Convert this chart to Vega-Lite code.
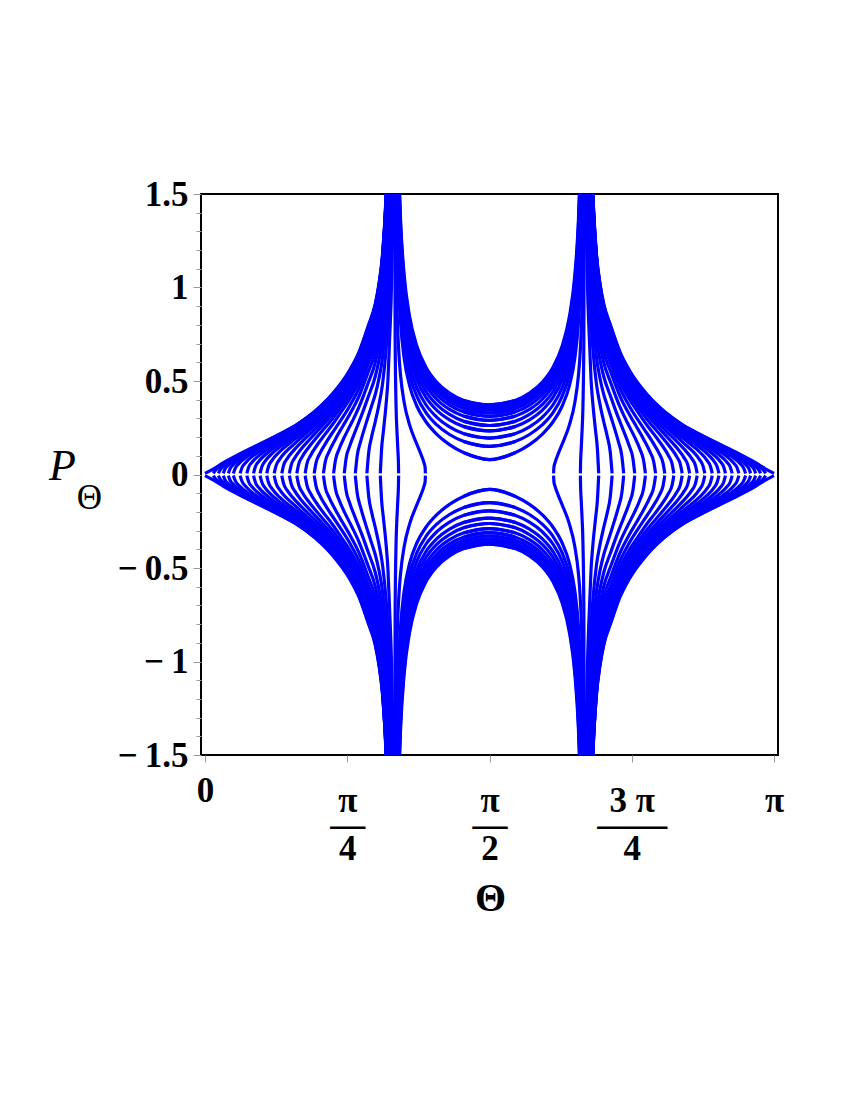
{
"$schema": "https://vega.github.io/schema/vega-lite/v6.json",
"width": 577, "height": 561,
"autosize": {"type": "none"},
"padding": {"left": 201, "top": 194, "right": 72, "bottom": 345},
"background": "white",
"config": {"view": {"stroke": "#000000", "strokeWidth": 2}, "font": "Liberation Serif"},
"datasets": {
"L": [
{"c":"L0","t":0,"u":3.1416,"p":0.006,"n":-0.006},{"c":"L0","t":0.05,"u":3.0916,"p":0.032,"n":-0.032},{"c":"L0","t":0.1,"u":3.0416,"p":0.062,"n":-0.062},{"c":"L0","t":0.2,"u":2.9416,"p":0.114,"n":-0.114},{"c":"L0","t":0.3,"u":2.8416,"p":0.162,"n":-0.162},{"c":"L0","t":0.4,"u":2.7416,"p":0.21,"n":-0.21},{"c":"L0","t":0.5,"u":2.6416,"p":0.263,"n":-0.263},{"c":"L0","t":0.6,"u":2.5416,"p":0.333,"n":-0.333},{"c":"L0","t":0.7,"u":2.4416,"p":0.427,"n":-0.427},{"c":"L0","t":0.8,"u":2.3416,"p":0.56,"n":-0.56},{"c":"L0","t":0.85,"u":2.2916,"p":0.655,"n":-0.655},{"c":"L0","t":0.9,"u":2.2416,"p":0.792,"n":-0.792},{"c":"L0","t":0.94,"u":2.2016,"p":0.912,"n":-0.912},{"c":"L0","t":0.96,"u":2.1816,"p":1.018,"n":-1.018},{"c":"L0","t":0.98,"u":2.1616,"p":1.176,"n":-1.176},{"c":"L0","t":1.0,"u":2.1416,"p":1.5,"n":-1.5},{"c":"L0","t":1.01,"u":2.1316,"p":1.768,"n":-1.768},
{"c":"L1","t":0.046,"u":3.0956,"p":0.006,"n":-0.006},{"c":"L1","t":0.056,"u":3.0856,"p":0.02,"n":-0.02},{"c":"L1","t":0.076,"u":3.0656,"p":0.038,"n":-0.038},{"c":"L1","t":0.1,"u":3.0416,"p":0.055,"n":-0.055},{"c":"L1","t":0.2,"u":2.9416,"p":0.111,"n":-0.111},{"c":"L1","t":0.3,"u":2.8416,"p":0.16,"n":-0.16},{"c":"L1","t":0.4,"u":2.7416,"p":0.209,"n":-0.209},{"c":"L1","t":0.5,"u":2.6416,"p":0.261,"n":-0.261},
{"c":"L2","t":0.074,"u":3.0676,"p":0.006,"n":-0.006},{"c":"L2","t":0.084,"u":3.0576,"p":0.025,"n":-0.025},{"c":"L2","t":0.104,"u":3.0376,"p":0.045,"n":-0.045},{"c":"L2","t":0.15,"u":2.9916,"p":0.077,"n":-0.077},{"c":"L2","t":0.2,"u":2.9416,"p":0.106,"n":-0.106},{"c":"L2","t":0.3,"u":2.8416,"p":0.157,"n":-0.157},{"c":"L2","t":0.4,"u":2.7416,"p":0.206,"n":-0.206},{"c":"L2","t":0.5,"u":2.6416,"p":0.26,"n":-0.26},{"c":"L2","t":0.6,"u":2.5416,"p":0.331,"n":-0.331},
{"c":"L3","t":0.101,"u":3.0406,"p":0.006,"n":-0.006},{"c":"L3","t":0.111,"u":3.0306,"p":0.029,"n":-0.029},{"c":"L3","t":0.131,"u":3.0106,"p":0.051,"n":-0.051},{"c":"L3","t":0.16,"u":2.9816,"p":0.073,"n":-0.073},{"c":"L3","t":0.2,"u":2.9416,"p":0.098,"n":-0.098},{"c":"L3","t":0.3,"u":2.8416,"p":0.153,"n":-0.153},{"c":"L3","t":0.4,"u":2.7416,"p":0.203,"n":-0.203},{"c":"L3","t":0.5,"u":2.6416,"p":0.257,"n":-0.257},{"c":"L3","t":0.6,"u":2.5416,"p":0.328,"n":-0.328},{"c":"L3","t":0.7,"u":2.4416,"p":0.423,"n":-0.423},
{"c":"L4","t":0.129,"u":3.0126,"p":0.006,"n":-0.006},{"c":"L4","t":0.139,"u":3.0026,"p":0.032,"n":-0.032},{"c":"L4","t":0.159,"u":2.9826,"p":0.055,"n":-0.055},{"c":"L4","t":0.2,"u":2.9416,"p":0.087,"n":-0.087},{"c":"L4","t":0.25,"u":2.8916,"p":0.119,"n":-0.119},{"c":"L4","t":0.3,"u":2.8416,"p":0.146,"n":-0.146},{"c":"L4","t":0.4,"u":2.7416,"p":0.199,"n":-0.199},{"c":"L4","t":0.5,"u":2.6416,"p":0.254,"n":-0.254},{"c":"L4","t":0.6,"u":2.5416,"p":0.325,"n":-0.325},{"c":"L4","t":0.7,"u":2.4416,"p":0.42,"n":-0.42},{"c":"L4","t":0.8,"u":2.3416,"p":0.553,"n":-0.553},{"c":"L4","t":0.85,"u":2.2916,"p":0.647,"n":-0.647},{"c":"L4","t":0.9,"u":2.2416,"p":0.784,"n":-0.784},{"c":"L4","t":0.94,"u":2.2016,"p":0.903,"n":-0.903},{"c":"L4","t":0.96,"u":2.1816,"p":1.008,"n":-1.008},{"c":"L4","t":0.98,"u":2.1616,"p":1.166,"n":-1.166},{"c":"L4","t":1.0,"u":2.1416,"p":1.488,"n":-1.488},{"c":"L4","t":1.01,"u":2.1316,"p":1.753,"n":-1.753},
{"c":"L5","t":0.157,"u":2.9846,"p":0.006,"n":-0.006},{"c":"L5","t":0.167,"u":2.9746,"p":0.033,"n":-0.033},{"c":"L5","t":0.187,"u":2.9546,"p":0.058,"n":-0.058},{"c":"L5","t":0.22,"u":2.9216,"p":0.087,"n":-0.087},{"c":"L5","t":0.26,"u":2.8816,"p":0.114,"n":-0.114},{"c":"L5","t":0.3,"u":2.8416,"p":0.138,"n":-0.138},{"c":"L5","t":0.4,"u":2.7416,"p":0.193,"n":-0.193},{"c":"L5","t":0.5,"u":2.6416,"p":0.249,"n":-0.249},{"c":"L5","t":0.6,"u":2.5416,"p":0.321,"n":-0.321},{"c":"L5","t":0.7,"u":2.4416,"p":0.416,"n":-0.416},{"c":"L5","t":0.8,"u":2.3416,"p":0.549,"n":-0.549},{"c":"L5","t":0.85,"u":2.2916,"p":0.643,"n":-0.643},{"c":"L5","t":0.9,"u":2.2416,"p":0.78,"n":-0.78},{"c":"L5","t":0.94,"u":2.2016,"p":0.899,"n":-0.899},{"c":"L5","t":0.96,"u":2.1816,"p":1.004,"n":-1.004},{"c":"L5","t":0.98,"u":2.1616,"p":1.161,"n":-1.161},{"c":"L5","t":1.0,"u":2.1416,"p":1.481,"n":-1.481},{"c":"L5","t":1.01,"u":2.1316,"p":1.746,"n":-1.746},
{"c":"L6","t":0.194,"u":2.9476,"p":0.006,"n":-0.006},{"c":"L6","t":0.204,"u":2.9376,"p":0.036,"n":-0.036},{"c":"L6","t":0.224,"u":2.9176,"p":0.063,"n":-0.063},{"c":"L6","t":0.26,"u":2.8816,"p":0.096,"n":-0.096},{"c":"L6","t":0.3,"u":2.8416,"p":0.124,"n":-0.124},{"c":"L6","t":0.35,"u":2.7916,"p":0.155,"n":-0.155},{"c":"L6","t":0.4,"u":2.7416,"p":0.184,"n":-0.184},{"c":"L6","t":0.5,"u":2.6416,"p":0.242,"n":-0.242},{"c":"L6","t":0.6,"u":2.5416,"p":0.315,"n":-0.315},{"c":"L6","t":0.7,"u":2.4416,"p":0.41,"n":-0.41},{"c":"L6","t":0.8,"u":2.3416,"p":0.543,"n":-0.543},{"c":"L6","t":0.85,"u":2.2916,"p":0.637,"n":-0.637},{"c":"L6","t":0.9,"u":2.2416,"p":0.773,"n":-0.773},{"c":"L6","t":0.94,"u":2.2016,"p":0.892,"n":-0.892},{"c":"L6","t":0.96,"u":2.1816,"p":0.997,"n":-0.997},{"c":"L6","t":0.98,"u":2.1616,"p":1.153,"n":-1.153},{"c":"L6","t":1.0,"u":2.1416,"p":1.472,"n":-1.472},{"c":"L6","t":1.01,"u":2.1316,"p":1.735,"n":-1.735},
{"c":"L7","t":0.231,"u":2.9106,"p":0.006,"n":-0.006},{"c":"L7","t":0.241,"u":2.9006,"p":0.039,"n":-0.039},{"c":"L7","t":0.261,"u":2.8806,"p":0.067,"n":-0.067},{"c":"L7","t":0.3,"u":2.8416,"p":0.103,"n":-0.103},{"c":"L7","t":0.35,"u":2.7916,"p":0.14,"n":-0.14},{"c":"L7","t":0.4,"u":2.7416,"p":0.171,"n":-0.171},{"c":"L7","t":0.5,"u":2.6416,"p":0.233,"n":-0.233},{"c":"L7","t":0.6,"u":2.5416,"p":0.307,"n":-0.307},{"c":"L7","t":0.7,"u":2.4416,"p":0.403,"n":-0.403},{"c":"L7","t":0.8,"u":2.3416,"p":0.536,"n":-0.536},{"c":"L7","t":0.85,"u":2.2916,"p":0.63,"n":-0.63},{"c":"L7","t":0.9,"u":2.2416,"p":0.766,"n":-0.766},{"c":"L7","t":0.94,"u":2.2016,"p":0.884,"n":-0.884},{"c":"L7","t":0.96,"u":2.1816,"p":0.988,"n":-0.988},{"c":"L7","t":0.98,"u":2.1616,"p":1.143,"n":-1.143},{"c":"L7","t":1.0,"u":2.1416,"p":1.459,"n":-1.459},{"c":"L7","t":1.01,"u":2.1316,"p":1.721,"n":-1.721},
{"c":"L8","t":0.268,"u":2.8736,"p":0.006,"n":-0.006},{"c":"L8","t":0.278,"u":2.8636,"p":0.041,"n":-0.041},{"c":"L8","t":0.298,"u":2.8436,"p":0.071,"n":-0.071},{"c":"L8","t":0.33,"u":2.8116,"p":0.103,"n":-0.103},{"c":"L8","t":0.37,"u":2.7716,"p":0.135,"n":-0.135},{"c":"L8","t":0.42,"u":2.7216,"p":0.17,"n":-0.17},{"c":"L8","t":0.5,"u":2.6416,"p":0.222,"n":-0.222},{"c":"L8","t":0.6,"u":2.5416,"p":0.298,"n":-0.298},{"c":"L8","t":0.7,"u":2.4416,"p":0.395,"n":-0.395},{"c":"L8","t":0.8,"u":2.3416,"p":0.528,"n":-0.528},{"c":"L8","t":0.85,"u":2.2916,"p":0.621,"n":-0.621},{"c":"L8","t":0.9,"u":2.2416,"p":0.756,"n":-0.756},{"c":"L8","t":0.94,"u":2.2016,"p":0.874,"n":-0.874},{"c":"L8","t":0.96,"u":2.1816,"p":0.977,"n":-0.977},{"c":"L8","t":0.98,"u":2.1616,"p":1.131,"n":-1.131},{"c":"L8","t":1.0,"u":2.1416,"p":1.445,"n":-1.445},{"c":"L8","t":1.01,"u":2.1316,"p":1.704,"n":-1.704},
{"c":"L9","t":0.304,"u":2.8376,"p":0.006,"n":-0.006},{"c":"L9","t":0.314,"u":2.8276,"p":0.042,"n":-0.042},{"c":"L9","t":0.334,"u":2.8076,"p":0.074,"n":-0.074},{"c":"L9","t":0.37,"u":2.7716,"p":0.112,"n":-0.112},{"c":"L9","t":0.42,"u":2.7216,"p":0.152,"n":-0.152},{"c":"L9","t":0.5,"u":2.6416,"p":0.208,"n":-0.208},{"c":"L9","t":0.6,"u":2.5416,"p":0.287,"n":-0.287},{"c":"L9","t":0.7,"u":2.4416,"p":0.385,"n":-0.385},{"c":"L9","t":0.8,"u":2.3416,"p":0.518,"n":-0.518},{"c":"L9","t":0.85,"u":2.2916,"p":0.611,"n":-0.611},{"c":"L9","t":0.9,"u":2.2416,"p":0.745,"n":-0.745},{"c":"L9","t":0.94,"u":2.2016,"p":0.863,"n":-0.863},{"c":"L9","t":0.96,"u":2.1816,"p":0.965,"n":-0.965},{"c":"L9","t":0.98,"u":2.1616,"p":1.118,"n":-1.118},{"c":"L9","t":1.0,"u":2.1416,"p":1.429,"n":-1.429},{"c":"L9","t":1.01,"u":2.1316,"p":1.686,"n":-1.686},
{"c":"L10","t":0.341,"u":2.8006,"p":0.006,"n":-0.006},{"c":"L10","t":0.351,"u":2.7906,"p":0.044,"n":-0.044},{"c":"L10","t":0.371,"u":2.7706,"p":0.077,"n":-0.077},{"c":"L10","t":0.41,"u":2.7316,"p":0.12,"n":-0.12},{"c":"L10","t":0.45,"u":2.6916,"p":0.154,"n":-0.154},{"c":"L10","t":0.5,"u":2.6416,"p":0.192,"n":-0.192},{"c":"L10","t":0.6,"u":2.5416,"p":0.274,"n":-0.274},{"c":"L10","t":0.7,"u":2.4416,"p":0.373,"n":-0.373},{"c":"L10","t":0.8,"u":2.3416,"p":0.507,"n":-0.507},{"c":"L10","t":0.85,"u":2.2916,"p":0.6,"n":-0.6},{"c":"L10","t":0.9,"u":2.2416,"p":0.733,"n":-0.733},{"c":"L10","t":0.94,"u":2.2016,"p":0.85,"n":-0.85},{"c":"L10","t":0.96,"u":2.1816,"p":0.951,"n":-0.951},{"c":"L10","t":0.98,"u":2.1616,"p":1.103,"n":-1.103},{"c":"L10","t":1.0,"u":2.1416,"p":1.41,"n":-1.41},{"c":"L10","t":1.01,"u":2.1316,"p":1.664,"n":-1.664},
{"c":"L11","t":0.382,"u":2.7596,"p":0.006,"n":-0.006},{"c":"L11","t":0.392,"u":2.7496,"p":0.046,"n":-0.046},{"c":"L11","t":0.412,"u":2.7296,"p":0.081,"n":-0.081},{"c":"L11","t":0.45,"u":2.6916,"p":0.125,"n":-0.125},{"c":"L11","t":0.5,"u":2.6416,"p":0.169,"n":-0.169},{"c":"L11","t":0.55,"u":2.5916,"p":0.214,"n":-0.214},{"c":"L11","t":0.6,"u":2.5416,"p":0.257,"n":-0.257},{"c":"L11","t":0.7,"u":2.4416,"p":0.358,"n":-0.358},{"c":"L11","t":0.8,"u":2.3416,"p":0.492,"n":-0.492},{"c":"L11","t":0.85,"u":2.2916,"p":0.585,"n":-0.585},{"c":"L11","t":0.9,"u":2.2416,"p":0.717,"n":-0.717},{"c":"L11","t":0.94,"u":2.2016,"p":0.833,"n":-0.833},{"c":"L11","t":0.96,"u":2.1816,"p":0.934,"n":-0.934},{"c":"L11","t":0.98,"u":2.1616,"p":1.083,"n":-1.083},{"c":"L11","t":1.0,"u":2.1416,"p":1.386,"n":-1.386},{"c":"L11","t":1.01,"u":2.1316,"p":1.636,"n":-1.636},
{"c":"L12","t":0.424,"u":2.7176,"p":0.006,"n":-0.006},{"c":"L12","t":0.434,"u":2.7076,"p":0.049,"n":-0.049},{"c":"L12","t":0.454,"u":2.6876,"p":0.085,"n":-0.085},{"c":"L12","t":0.49,"u":2.6516,"p":0.129,"n":-0.129},{"c":"L12","t":0.55,"u":2.5916,"p":0.189,"n":-0.189},{"c":"L12","t":0.6,"u":2.5416,"p":0.236,"n":-0.236},{"c":"L12","t":0.7,"u":2.4416,"p":0.34,"n":-0.34},{"c":"L12","t":0.8,"u":2.3416,"p":0.475,"n":-0.475},{"c":"L12","t":0.85,"u":2.2916,"p":0.567,"n":-0.567},{"c":"L12","t":0.9,"u":2.2416,"p":0.699,"n":-0.699},{"c":"L12","t":0.94,"u":2.2016,"p":0.814,"n":-0.814},{"c":"L12","t":0.96,"u":2.1816,"p":0.913,"n":-0.913},{"c":"L12","t":0.98,"u":2.1616,"p":1.06,"n":-1.06},{"c":"L12","t":1.0,"u":2.1416,"p":1.359,"n":-1.359},{"c":"L12","t":1.01,"u":2.1316,"p":1.604,"n":-1.604},
{"c":"L13","t":0.466,"u":2.6756,"p":0.006,"n":-0.006},{"c":"L13","t":0.476,"u":2.6656,"p":0.051,"n":-0.051},{"c":"L13","t":0.496,"u":2.6456,"p":0.089,"n":-0.089},{"c":"L13","t":0.53,"u":2.6116,"p":0.135,"n":-0.135},{"c":"L13","t":0.58,"u":2.5616,"p":0.19,"n":-0.19},{"c":"L13","t":0.65,"u":2.4916,"p":0.264,"n":-0.264},{"c":"L13","t":0.7,"u":2.4416,"p":0.319,"n":-0.319},{"c":"L13","t":0.8,"u":2.3416,"p":0.455,"n":-0.455},{"c":"L13","t":0.85,"u":2.2916,"p":0.547,"n":-0.547},{"c":"L13","t":0.9,"u":2.2416,"p":0.678,"n":-0.678},{"c":"L13","t":0.94,"u":2.2016,"p":0.792,"n":-0.792},{"c":"L13","t":0.96,"u":2.1816,"p":0.89,"n":-0.89},{"c":"L13","t":0.98,"u":2.1616,"p":1.035,"n":-1.035},{"c":"L13","t":1.0,"u":2.1416,"p":1.327,"n":-1.327},{"c":"L13","t":1.01,"u":2.1316,"p":1.568,"n":-1.568},
{"c":"L14","t":0.507,"u":2.6346,"p":0.006,"n":-0.006},{"c":"L14","t":0.517,"u":2.6246,"p":0.054,"n":-0.054},{"c":"L14","t":0.537,"u":2.6046,"p":0.095,"n":-0.095},{"c":"L14","t":0.57,"u":2.5716,"p":0.142,"n":-0.142},{"c":"L14","t":0.62,"u":2.5216,"p":0.202,"n":-0.202},{"c":"L14","t":0.7,"u":2.4416,"p":0.294,"n":-0.294},{"c":"L14","t":0.8,"u":2.3416,"p":0.433,"n":-0.433},{"c":"L14","t":0.85,"u":2.2916,"p":0.525,"n":-0.525},{"c":"L14","t":0.9,"u":2.2416,"p":0.654,"n":-0.654},{"c":"L14","t":0.94,"u":2.2016,"p":0.768,"n":-0.768},{"c":"L14","t":0.96,"u":2.1816,"p":0.864,"n":-0.864},{"c":"L14","t":0.98,"u":2.1616,"p":1.006,"n":-1.006},{"c":"L14","t":1.0,"u":2.1416,"p":1.293,"n":-1.293},{"c":"L14","t":1.01,"u":2.1316,"p":1.529,"n":-1.529},{"c":"L14","t":1.02,"u":2.1216,"p":2.036,"n":-2.036},
{"c":"L15","t":0.553,"u":2.5886,"p":0.006,"n":-0.006},{"c":"L15","t":0.563,"u":2.5786,"p":0.058,"n":-0.058},{"c":"L15","t":0.583,"u":2.5586,"p":0.102,"n":-0.102},{"c":"L15","t":0.62,"u":2.5216,"p":0.159,"n":-0.159},{"c":"L15","t":0.66,"u":2.4816,"p":0.212,"n":-0.212},{"c":"L15","t":0.7,"u":2.4416,"p":0.262,"n":-0.262},{"c":"L15","t":0.75,"u":2.3916,"p":0.332,"n":-0.332},{"c":"L15","t":0.8,"u":2.3416,"p":0.405,"n":-0.405},{"c":"L15","t":0.85,"u":2.2916,"p":0.497,"n":-0.497},{"c":"L15","t":0.9,"u":2.2416,"p":0.625,"n":-0.625},{"c":"L15","t":0.94,"u":2.2016,"p":0.737,"n":-0.737},{"c":"L15","t":0.96,"u":2.1816,"p":0.832,"n":-0.832},{"c":"L15","t":0.98,"u":2.1616,"p":0.971,"n":-0.971},{"c":"L15","t":1.0,"u":2.1416,"p":1.25,"n":-1.25},{"c":"L15","t":1.01,"u":2.1316,"p":1.479,"n":-1.479},{"c":"L15","t":1.02,"u":2.1216,"p":1.971,"n":-1.971},
{"c":"L16","t":0.603,"u":2.5386,"p":0.006,"n":-0.006},{"c":"L16","t":0.613,"u":2.5286,"p":0.062,"n":-0.062},{"c":"L16","t":0.633,"u":2.5086,"p":0.11,"n":-0.11},{"c":"L16","t":0.67,"u":2.4716,"p":0.173,"n":-0.173},{"c":"L16","t":0.72,"u":2.4216,"p":0.247,"n":-0.247},{"c":"L16","t":0.8,"u":2.3416,"p":0.368,"n":-0.368},{"c":"L16","t":0.85,"u":2.2916,"p":0.461,"n":-0.461},{"c":"L16","t":0.9,"u":2.2416,"p":0.588,"n":-0.588},{"c":"L16","t":0.94,"u":2.2016,"p":0.7,"n":-0.7},{"c":"L16","t":0.96,"u":2.1816,"p":0.792,"n":-0.792},{"c":"L16","t":0.98,"u":2.1616,"p":0.927,"n":-0.927},{"c":"L16","t":1.0,"u":2.1416,"p":1.197,"n":-1.197},{"c":"L16","t":1.01,"u":2.1316,"p":1.418,"n":-1.418},{"c":"L16","t":1.02,"u":2.1216,"p":1.892,"n":-1.892},
{"c":"L17","t":0.654,"u":2.4876,"p":0.006,"n":-0.006},{"c":"L17","t":0.664,"u":2.4776,"p":0.068,"n":-0.068},{"c":"L17","t":0.684,"u":2.4576,"p":0.12,"n":-0.12},{"c":"L17","t":0.72,"u":2.4216,"p":0.189,"n":-0.189},{"c":"L17","t":0.76,"u":2.3816,"p":0.257,"n":-0.257},{"c":"L17","t":0.8,"u":2.3416,"p":0.323,"n":-0.323},{"c":"L17","t":0.85,"u":2.2916,"p":0.418,"n":-0.418},{"c":"L17","t":0.9,"u":2.2416,"p":0.544,"n":-0.544},{"c":"L17","t":0.94,"u":2.2016,"p":0.655,"n":-0.655},{"c":"L17","t":0.96,"u":2.1816,"p":0.745,"n":-0.745},{"c":"L17","t":0.98,"u":2.1616,"p":0.876,"n":-0.876},{"c":"L17","t":1.0,"u":2.1416,"p":1.135,"n":-1.135},{"c":"L17","t":1.01,"u":2.1316,"p":1.347,"n":-1.347},{"c":"L17","t":1.02,"u":2.1216,"p":1.8,"n":-1.8},
{"c":"L18","t":0.71,"u":2.4316,"p":0.006,"n":-0.006},{"c":"L18","t":0.72,"u":2.4216,"p":0.075,"n":-0.075},{"c":"L18","t":0.74,"u":2.4016,"p":0.135,"n":-0.135},{"c":"L18","t":0.77,"u":2.3716,"p":0.201,"n":-0.201},{"c":"L18","t":0.81,"u":2.3316,"p":0.278,"n":-0.278},{"c":"L18","t":0.85,"u":2.2916,"p":0.36,"n":-0.36},{"c":"L18","t":0.9,"u":2.2416,"p":0.487,"n":-0.487},{"c":"L18","t":0.94,"u":2.2016,"p":0.598,"n":-0.598},{"c":"L18","t":0.96,"u":2.1816,"p":0.685,"n":-0.685},{"c":"L18","t":0.98,"u":2.1616,"p":0.811,"n":-0.811},{"c":"L18","t":1.0,"u":2.1416,"p":1.056,"n":-1.056},{"c":"L18","t":1.01,"u":2.1316,"p":1.257,"n":-1.257},{"c":"L18","t":1.02,"u":2.1216,"p":1.684,"n":-1.684},
{"c":"L19","t":0.769,"u":2.3726,"p":0.006,"n":-0.006},{"c":"L19","t":0.779,"u":2.3626,"p":0.086,"n":-0.086},{"c":"L19","t":0.799,"u":2.3426,"p":0.152,"n":-0.152},{"c":"L19","t":0.83,"u":2.3116,"p":0.232,"n":-0.232},{"c":"L19","t":0.87,"u":2.2716,"p":0.331,"n":-0.331},{"c":"L19","t":0.9,"u":2.2416,"p":0.412,"n":-0.412},{"c":"L19","t":0.94,"u":2.2016,"p":0.524,"n":-0.524},{"c":"L19","t":0.96,"u":2.1816,"p":0.609,"n":-0.609},{"c":"L19","t":0.98,"u":2.1616,"p":0.729,"n":-0.729},{"c":"L19","t":1.0,"u":2.1416,"p":0.959,"n":-0.959},{"c":"L19","t":1.01,"u":2.1316,"p":1.146,"n":-1.146},{"c":"L19","t":1.02,"u":2.1216,"p":1.541,"n":-1.541},{"c":"L19","t":1.03,"u":2.1116,"p":1.987,"n":-1.987},
{"c":"L20","t":0.83,"u":2.3116,"p":0.006,"n":-0.006},{"c":"L20","t":0.84,"u":2.3016,"p":0.098,"n":-0.098},{"c":"L20","t":0.86,"u":2.2816,"p":0.178,"n":-0.178},{"c":"L20","t":0.89,"u":2.2516,"p":0.276,"n":-0.276},{"c":"L20","t":0.92,"u":2.2216,"p":0.367,"n":-0.367},{"c":"L20","t":0.94,"u":2.2016,"p":0.428,"n":-0.428},{"c":"L20","t":0.96,"u":2.1816,"p":0.511,"n":-0.511},{"c":"L20","t":0.98,"u":2.1616,"p":0.625,"n":-0.625},{"c":"L20","t":1.0,"u":2.1416,"p":0.837,"n":-0.837},{"c":"L20","t":1.01,"u":2.1316,"p":1.007,"n":-1.007},{"c":"L20","t":1.02,"u":2.1216,"p":1.364,"n":-1.364},{"c":"L20","t":1.03,"u":2.1116,"p":1.769,"n":-1.769},
{"c":"L21","t":0.894,"u":2.2476,"p":0.006,"n":-0.006},{"c":"L21","t":0.904,"u":2.2376,"p":0.119,"n":-0.119},{"c":"L21","t":0.92,"u":2.2216,"p":0.201,"n":-0.201},{"c":"L21","t":0.94,"u":2.2016,"p":0.282,"n":-0.282},{"c":"L21","t":0.96,"u":2.1816,"p":0.371,"n":-0.371},{"c":"L21","t":0.98,"u":2.1616,"p":0.482,"n":-0.482},{"c":"L21","t":1.0,"u":2.1416,"p":0.672,"n":-0.672},{"c":"L21","t":1.01,"u":2.1316,"p":0.822,"n":-0.822},{"c":"L21","t":1.02,"u":2.1216,"p":1.13,"n":-1.13},{"c":"L21","t":1.03,"u":2.1116,"p":1.483,"n":-1.483},{"c":"L21","t":1.04,"u":2.1016,"p":2.39,"n":-2.39},
{"c":"L22","t":0.968,"u":2.1736,"p":0.006,"n":-0.006},{"c":"L22","t":0.975,"u":2.1666,"p":0.136,"n":-0.136},{"c":"L22","t":0.985,"u":2.1566,"p":0.232,"n":-0.232},{"c":"L22","t":1.0,"u":2.1416,"p":0.376,"n":-0.376},{"c":"L22","t":1.01,"u":2.1316,"p":0.504,"n":-0.504},{"c":"L22","t":1.02,"u":2.1216,"p":0.74,"n":-0.74},{"c":"L22","t":1.03,"u":2.1116,"p":1.021,"n":-1.021},{"c":"L22","t":1.04,"u":2.1016,"p":1.711,"n":-1.711},{"c":"L22","t":1.045,"u":2.0966,"p":3.15,"n":-3.15}
],
"M": [
{"c":"M1","t":1.055,"u":2.0866,"p":1.716,"n":-1.716},{"c":"M1","t":1.06,"u":2.0816,"p":1.332,"n":-1.332},{"c":"M1","t":1.07,"u":2.0716,"p":0.985,"n":-0.985},{"c":"M1","t":1.08,"u":2.0616,"p":0.81,"n":-0.81},{"c":"M1","t":1.1,"u":2.0416,"p":0.62,"n":-0.62},{"c":"M1","t":1.13,"u":2.0116,"p":0.474,"n":-0.474},{"c":"M1","t":1.17,"u":1.9716,"p":0.365,"n":-0.365},{"c":"M1","t":1.22,"u":1.9216,"p":0.282,"n":-0.282},{"c":"M1","t":1.28,"u":1.8616,"p":0.215,"n":-0.215},{"c":"M1","t":1.35,"u":1.7916,"p":0.16,"n":-0.16},{"c":"M1","t":1.43,"u":1.7116,"p":0.116,"n":-0.116},{"c":"M1","t":1.5708,"u":1.5708,"p":0.08,"n":-0.08},{"c":"M1","t":1.7116,"u":1.43,"p":0.116,"n":-0.116},
{"c":"M2","t":1.055,"u":2.0866,"p":1.882,"n":-1.882},{"c":"M2","t":1.06,"u":2.0816,"p":1.463,"n":-1.463},{"c":"M2","t":1.07,"u":2.0716,"p":1.085,"n":-1.085},{"c":"M2","t":1.08,"u":2.0616,"p":0.895,"n":-0.895},{"c":"M2","t":1.1,"u":2.0416,"p":0.69,"n":-0.69},{"c":"M2","t":1.13,"u":2.0116,"p":0.533,"n":-0.533},{"c":"M2","t":1.17,"u":1.9716,"p":0.418,"n":-0.418},{"c":"M2","t":1.22,"u":1.9216,"p":0.331,"n":-0.331},{"c":"M2","t":1.28,"u":1.8616,"p":0.265,"n":-0.265},{"c":"M2","t":1.35,"u":1.7916,"p":0.214,"n":-0.214},{"c":"M2","t":1.43,"u":1.7116,"p":0.176,"n":-0.176},{"c":"M2","t":1.5708,"u":1.5708,"p":0.15,"n":-0.15},{"c":"M2","t":1.7116,"u":1.43,"p":0.176,"n":-0.176},
{"c":"M3","t":1.055,"u":2.0866,"p":2.029,"n":-2.029},{"c":"M3","t":1.06,"u":2.0816,"p":1.579,"n":-1.579},{"c":"M3","t":1.07,"u":2.0716,"p":1.173,"n":-1.173},{"c":"M3","t":1.08,"u":2.0616,"p":0.969,"n":-0.969},{"c":"M3","t":1.1,"u":2.0416,"p":0.751,"n":-0.751},{"c":"M3","t":1.13,"u":2.0116,"p":0.584,"n":-0.584},{"c":"M3","t":1.17,"u":1.9716,"p":0.463,"n":-0.463},{"c":"M3","t":1.22,"u":1.9216,"p":0.373,"n":-0.373},{"c":"M3","t":1.28,"u":1.8616,"p":0.306,"n":-0.306},{"c":"M3","t":1.35,"u":1.7916,"p":0.255,"n":-0.255},{"c":"M3","t":1.43,"u":1.7116,"p":0.218,"n":-0.218},{"c":"M3","t":1.5708,"u":1.5708,"p":0.195,"n":-0.195},{"c":"M3","t":1.7116,"u":1.43,"p":0.218,"n":-0.218},
{"c":"M4","t":1.06,"u":2.0816,"p":1.692,"n":-1.692},{"c":"M4","t":1.07,"u":2.0716,"p":1.259,"n":-1.259},{"c":"M4","t":1.08,"u":2.0616,"p":1.042,"n":-1.042},{"c":"M4","t":1.1,"u":2.0416,"p":0.81,"n":-0.81},{"c":"M4","t":1.13,"u":2.0116,"p":0.633,"n":-0.633},{"c":"M4","t":1.17,"u":1.9716,"p":0.506,"n":-0.506},{"c":"M4","t":1.22,"u":1.9216,"p":0.412,"n":-0.412},{"c":"M4","t":1.28,"u":1.8616,"p":0.343,"n":-0.343},{"c":"M4","t":1.35,"u":1.7916,"p":0.292,"n":-0.292},{"c":"M4","t":1.43,"u":1.7116,"p":0.256,"n":-0.256},{"c":"M4","t":1.5708,"u":1.5708,"p":0.233,"n":-0.233},{"c":"M4","t":1.7116,"u":1.43,"p":0.256,"n":-0.256},
{"c":"M5","t":1.06,"u":2.0816,"p":1.786,"n":-1.786},{"c":"M5","t":1.07,"u":2.0716,"p":1.33,"n":-1.33},{"c":"M5","t":1.08,"u":2.0616,"p":1.102,"n":-1.102},{"c":"M5","t":1.1,"u":2.0416,"p":0.858,"n":-0.858},{"c":"M5","t":1.13,"u":2.0116,"p":0.673,"n":-0.673},{"c":"M5","t":1.17,"u":1.9716,"p":0.541,"n":-0.541},{"c":"M5","t":1.22,"u":1.9216,"p":0.444,"n":-0.444},{"c":"M5","t":1.28,"u":1.8616,"p":0.373,"n":-0.373},{"c":"M5","t":1.35,"u":1.7916,"p":0.321,"n":-0.321},{"c":"M5","t":1.43,"u":1.7116,"p":0.284,"n":-0.284},{"c":"M5","t":1.5708,"u":1.5708,"p":0.262,"n":-0.262},{"c":"M5","t":1.7116,"u":1.43,"p":0.284,"n":-0.284},
{"c":"M6","t":1.06,"u":2.0816,"p":1.878,"n":-1.878},{"c":"M6","t":1.07,"u":2.0716,"p":1.4,"n":-1.4},{"c":"M6","t":1.08,"u":2.0616,"p":1.161,"n":-1.161},{"c":"M6","t":1.1,"u":2.0416,"p":0.906,"n":-0.906},{"c":"M6","t":1.13,"u":2.0116,"p":0.713,"n":-0.713},{"c":"M6","t":1.17,"u":1.9716,"p":0.575,"n":-0.575},{"c":"M6","t":1.22,"u":1.9216,"p":0.475,"n":-0.475},{"c":"M6","t":1.28,"u":1.8616,"p":0.401,"n":-0.401},{"c":"M6","t":1.35,"u":1.7916,"p":0.348,"n":-0.348},{"c":"M6","t":1.43,"u":1.7116,"p":0.312,"n":-0.312},{"c":"M6","t":1.5708,"u":1.5708,"p":0.289,"n":-0.289},{"c":"M6","t":1.7116,"u":1.43,"p":0.312,"n":-0.312},
{"c":"M7","t":1.06,"u":2.0816,"p":1.956,"n":-1.956},{"c":"M7","t":1.07,"u":2.0716,"p":1.459,"n":-1.459},{"c":"M7","t":1.08,"u":2.0616,"p":1.211,"n":-1.211},{"c":"M7","t":1.1,"u":2.0416,"p":0.946,"n":-0.946},{"c":"M7","t":1.13,"u":2.0116,"p":0.746,"n":-0.746},{"c":"M7","t":1.17,"u":1.9716,"p":0.603,"n":-0.603},{"c":"M7","t":1.22,"u":1.9216,"p":0.5,"n":-0.5},{"c":"M7","t":1.28,"u":1.8616,"p":0.425,"n":-0.425},{"c":"M7","t":1.35,"u":1.7916,"p":0.371,"n":-0.371},{"c":"M7","t":1.43,"u":1.7116,"p":0.334,"n":-0.334},{"c":"M7","t":1.5708,"u":1.5708,"p":0.311,"n":-0.311},{"c":"M7","t":1.7116,"u":1.43,"p":0.334,"n":-0.334},
{"c":"M8","t":1.06,"u":2.0816,"p":2.022,"n":-2.022},{"c":"M8","t":1.07,"u":2.0716,"p":1.509,"n":-1.509},{"c":"M8","t":1.08,"u":2.0616,"p":1.253,"n":-1.253},{"c":"M8","t":1.1,"u":2.0416,"p":0.98,"n":-0.98},{"c":"M8","t":1.13,"u":2.0116,"p":0.774,"n":-0.774},{"c":"M8","t":1.17,"u":1.9716,"p":0.627,"n":-0.627},{"c":"M8","t":1.22,"u":1.9216,"p":0.522,"n":-0.522},{"c":"M8","t":1.28,"u":1.8616,"p":0.445,"n":-0.445},{"c":"M8","t":1.35,"u":1.7916,"p":0.39,"n":-0.39},{"c":"M8","t":1.43,"u":1.7116,"p":0.352,"n":-0.352},{"c":"M8","t":1.5708,"u":1.5708,"p":0.329,"n":-0.329},{"c":"M8","t":1.7116,"u":1.43,"p":0.352,"n":-0.352},
{"c":"M9","t":1.06,"u":2.0816,"p":2.082,"n":-2.082},{"c":"M9","t":1.07,"u":2.0716,"p":1.554,"n":-1.554},{"c":"M9","t":1.08,"u":2.0616,"p":1.291,"n":-1.291},{"c":"M9","t":1.1,"u":2.0416,"p":1.011,"n":-1.011},{"c":"M9","t":1.13,"u":2.0116,"p":0.799,"n":-0.799},{"c":"M9","t":1.17,"u":1.9716,"p":0.649,"n":-0.649},{"c":"M9","t":1.22,"u":1.9216,"p":0.541,"n":-0.541},{"c":"M9","t":1.28,"u":1.8616,"p":0.463,"n":-0.463},{"c":"M9","t":1.35,"u":1.7916,"p":0.406,"n":-0.406},{"c":"M9","t":1.43,"u":1.7116,"p":0.368,"n":-0.368},{"c":"M9","t":1.5708,"u":1.5708,"p":0.345,"n":-0.345},{"c":"M9","t":1.7116,"u":1.43,"p":0.368,"n":-0.368},
{"c":"M10","t":1.07,"u":2.0716,"p":1.595,"n":-1.595},{"c":"M10","t":1.08,"u":2.0616,"p":1.325,"n":-1.325},{"c":"M10","t":1.1,"u":2.0416,"p":1.038,"n":-1.038},{"c":"M10","t":1.13,"u":2.0116,"p":0.822,"n":-0.822},{"c":"M10","t":1.17,"u":1.9716,"p":0.668,"n":-0.668},{"c":"M10","t":1.22,"u":1.9216,"p":0.558,"n":-0.558},{"c":"M10","t":1.28,"u":1.8616,"p":0.478,"n":-0.478},{"c":"M10","t":1.35,"u":1.7916,"p":0.421,"n":-0.421},{"c":"M10","t":1.43,"u":1.7116,"p":0.383,"n":-0.383},{"c":"M10","t":1.5708,"u":1.5708,"p":0.359,"n":-0.359},{"c":"M10","t":1.7116,"u":1.43,"p":0.383,"n":-0.383},
{"c":"M11","t":1.07,"u":2.0716,"p":1.632,"n":-1.632},{"c":"M11","t":1.08,"u":2.0616,"p":1.357,"n":-1.357},{"c":"M11","t":1.1,"u":2.0416,"p":1.063,"n":-1.063},{"c":"M11","t":1.13,"u":2.0116,"p":0.843,"n":-0.843},{"c":"M11","t":1.17,"u":1.9716,"p":0.686,"n":-0.686},{"c":"M11","t":1.22,"u":1.9216,"p":0.574,"n":-0.574},{"c":"M11","t":1.28,"u":1.8616,"p":0.493,"n":-0.493},{"c":"M11","t":1.35,"u":1.7916,"p":0.435,"n":-0.435},{"c":"M11","t":1.43,"u":1.7116,"p":0.396,"n":-0.396},{"c":"M11","t":1.5708,"u":1.5708,"p":0.372,"n":-0.372},{"c":"M11","t":1.7116,"u":1.43,"p":0.396,"n":-0.396},
{"c":"C1","t":1.217,"u":1.9246,"p":0.006,"n":-0.006},{"c":"C1","t":1.215,"u":1.9266,"p":0.04,"n":-0.04},{"c":"C1","t":1.21,"u":1.9316,"p":0.06,"n":-0.06},{"c":"C1","t":1.19,"u":1.9516,"p":0.114,"n":-0.114},{"c":"C1","t":1.17,"u":1.9716,"p":0.161,"n":-0.161},{"c":"C1","t":1.13,"u":2.0116,"p":0.264,"n":-0.264},{"c":"C1","t":1.1,"u":2.0416,"p":0.384,"n":-0.384},{"c":"C1","t":1.08,"u":2.0616,"p":0.528,"n":-0.528},{"c":"C1","t":1.07,"u":2.0716,"p":0.656,"n":-0.656},{"c":"C1","t":1.06,"u":2.0816,"p":0.906,"n":-0.906},{"c":"C1","t":1.055,"u":2.0866,"p":1.177,"n":-1.177},{"c":"C1","t":1.05,"u":2.0916,"p":1.997,"n":-1.997},
{"c":"C2","t":1.069,"u":2.0726,"p":0.006,"n":-0.006},{"c":"C2","t":1.068,"u":2.0736,"p":0.06,"n":-0.06},{"c":"C2","t":1.065,"u":2.0766,"p":0.129,"n":-0.129},{"c":"C2","t":1.06,"u":2.0816,"p":0.228,"n":-0.228},{"c":"C2","t":1.055,"u":2.0866,"p":0.364,"n":-0.364},{"c":"C2","t":1.05,"u":2.0916,"p":0.708,"n":-0.708},{"c":"C2","t":1.048,"u":2.0936,"p":1.386,"n":-1.386},{"c":"C2","t":1.0475,"u":2.0941,"p":2.29,"n":-2.29}
]
},
"layer": [
{"data": {"name": "L"},
 "transform": [
  {"fold": ["p", "n"], "as": ["ps", "y"]},
  {"fold": ["t", "u"], "as": ["ts", "x"]}
 ],
 "mark": {"type": "line", "color": "#0000ff", "strokeWidth": 3.2, "interpolate": "monotone", "clip": true},
 "encoding": {
  "x": {"field": "x", "type": "quantitative",
   "scale": {"domain": [-0.022, 3.1636], "nice": false, "zero": false},
   "axis": {"orient": "bottom", "values": [0],
    "labelFont": "Liberation Serif", "labelFontWeight": "bold", "labelFontSize": 35, "labelColor": "#000",
    "labelBaseline": "top", "labelPadding": 11, "labelFlush": false, "labelOverlap": false, "labelBound": false,
    "tickColor": "#999", "tickSize": 7, "tickWidth": 1, "domain": false, "grid": false,
    "title": "Θ", "titleFont": "Liberation Serif", "titleFontWeight": "bold", "titleFontSize": 40, "titleColor": "#000",
    "titleX": 289, "titleY": 155, "titleAlign": "center", "titleBaseline": "alphabetic"}},
  "y": {"field": "y", "type": "quantitative",
   "scale": {"domain": [-1.5, 1.5], "nice": false, "zero": false},
   "axis": {"orient": "left", "values": [-1.5, -1, -0.5, 0, 0.5, 1, 1.5],
    "labelExpr": "datum.value < 0 ? '−\u2009' + format(-datum.value, '') : format(datum.value, '')",
    "labelFont": "Liberation Serif", "labelFontWeight": "bold", "labelFontSize": 35, "labelColor": "#000",
    "labelPadding": 5, "labelFlush": false, "labelOverlap": false, "labelBound": false,
    "tickColor": "#999", "tickSize": 8, "tickWidth": 1, "domain": false, "grid": false,
    "title": "P", "titleFont": "Liberation Serif", "titleFontStyle": "italic", "titleFontWeight": "normal", "titleFontSize": 44, "titleColor": "#000",
    "titleAngle": 0, "titleX": -139, "titleY": 285, "titleAlign": "center", "titleBaseline": "alphabetic"}},
  "detail": [{"field": "c"}, {"field": "ps"}, {"field": "ts"}]
 }},
{"data": {"name": "M"},
 "transform": [
  {"fold": ["p", "n"], "as": ["ps", "y"]},
  {"fold": ["t", "u"], "as": ["ts", "x"]}
 ],
 "mark": {"type": "line", "color": "#0000ff", "strokeWidth": 3.2, "interpolate": "monotone", "clip": true},
 "encoding": {
  "x": {"field": "x", "type": "quantitative",
   "scale": {"domain": [-0.022, 3.1636], "nice": false, "zero": false},
   "axis": {"orient": "bottom", "values": [0.7854, 1.5708, 2.3562, 3.1416],
    "labelExpr": "datum.value < 1 ? ['π','—','4'] : datum.value < 2 ? ['π','—','2'] : datum.value < 3 ? ['3 π','——','4'] : 'π'",
    "labelFont": "Liberation Serif", "labelFontWeight": "bold", "labelFontSize": 35, "labelColor": "#000",
    "labelBaseline": "top", "labelLineHeight": 24, "labelPadding": 21, "labelFlush": false, "labelOverlap": false, "labelBound": false,
    "tickColor": "#999", "tickSize": 7, "tickWidth": 1, "domain": false, "grid": false, "title": null}},
  "y": {"field": "y", "type": "quantitative",
   "scale": {"domain": [-1.5, 1.5], "nice": false, "zero": false},
   "axis": {"orient": "left", "values": [-1.4, -1.3, -1.2, -1.1, -0.9, -0.8, -0.7, -0.6, -0.4, -0.3, -0.2, -0.1, 0.1, 0.2, 0.3, 0.4, 0.6, 0.7, 0.8, 0.9, 1.1, 1.2, 1.3, 1.4],
    "labels": false, "tickColor": "#999", "tickSize": 5, "tickWidth": 1, "domain": false, "grid": false,
    "title": "Θ", "titleFont": "Liberation Serif", "titleFontWeight": "normal", "titleFontSize": 35, "titleColor": "#000",
    "titleAngle": 0, "titleX": -112, "titleY": 314, "titleAlign": "center", "titleBaseline": "alphabetic"}},
  "detail": [{"field": "c"}, {"field": "ps"}, {"field": "ts"}]
 }}
],
"resolve": {"axis": {"y": "independent", "x": "independent"}}
}
